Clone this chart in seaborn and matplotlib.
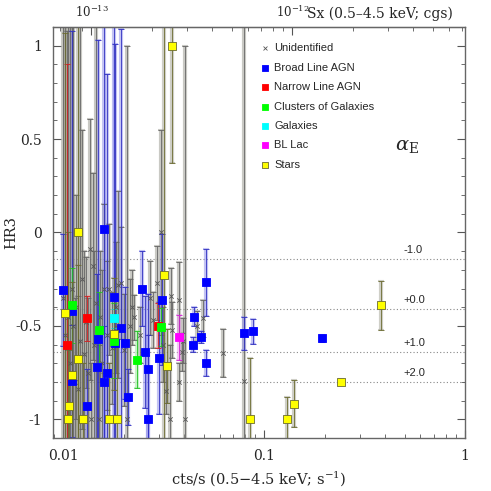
import numpy as np
import matplotlib
matplotlib.use("Agg")
import matplotlib.pyplot as plt
from matplotlib.ticker import LogLocator, MultipleLocator, NullFormatter, FixedLocator, FixedFormatter
import seaborn as sns

# conversion cts/s -> flux (cgs) for the top axis
FLUX_PER_CTS = 7.23e-12

# Unidentified sources: count rate, HR3, error
unid_x = [0.0100, 0.0102, 0.0104, 0.0106, 0.0108, 0.0110, 0.0112, 0.0114, 0.0116, 0.0119,
          0.0121, 0.0124, 0.0127, 0.0130, 0.0133, 0.0136, 0.0137, 0.0140, 0.0143, 0.0146,
          0.0150, 0.0152, 0.0156, 0.0160, 0.0165, 0.0170, 0.0175, 0.0183, 0.0188, 0.0194,
          0.0200, 0.0207, 0.0214, 0.0220, 0.0226, 0.0240, 0.0270, 0.0281, 0.0292, 0.0306,
          0.0315, 0.0325, 0.0340, 0.0343, 0.0347, 0.0375, 0.0375, 0.0392, 0.0396, 0.0405,
          0.0464, 0.0497, 0.0627, 0.0790]
unid_y = [-0.35, -0.55, -0.62, -0.45, -0.70, -0.30, -0.50, -0.80, -0.40, -0.84,
          -0.58, -0.25, -0.65, -0.48, -0.75, -0.09, -1.00, -0.18, -0.60, -0.38,
          -1.00, -0.45, -0.70, -0.30, -0.55, -0.305, -0.62, -0.40, -0.28, -0.27,
          -0.63, -1.00, -0.50, -0.40, -0.455, -0.55, -0.35, -0.47, -0.27, 0.00,
          -0.60, -0.85, -1.00, -0.34, -0.52, -0.36, -0.80, -0.64, -0.58, -1.00,
          -0.50, -0.46, -0.645, -0.795]
unid_err = [1.6, 1.8, 1.7, 1.6, 1.9, 1.5, 1.6, 0.45, 0.6, 0.5,
            1.7, 0.8, 0.55, 0.35, 0.4, 0.7, 0.3, 0.5, 0.5, 1.7,
            0.4, 0.35, 0.5, 0.45, 0.4, 0.35, 0.3, 0.35, 0.5, 0.3,
            0.3, 2.0, 0.25, 0.2, 0.12, 0.15, 0.2, 0.15, 0.2, 0.55,
            0.2, 0.12, 0.4, 0.15, 0.15, 0.2, 0.1, 0.1, 0.12, 2.0,
            0.08, 0.1, 0.13, 2.2]

# Broad line AGN
blagn_x = [0.0159, 0.0100, 0.0111, 0.0248, 0.0178, 0.0310, 0.0513, 0.0449, 0.0486, 0.0442,
           0.0513, 0.0194, 0.0149, 0.0203, 0.0181, 0.0254, 0.0301, 0.0148, 0.0165, 0.0263,
           0.0111, 0.0160, 0.0209, 0.0131, 0.0265, 0.0792, 0.0880, 0.1944]
blagn_y = [0.02, -0.31, -0.42, -0.30, -0.345, -0.36, -0.267, -0.45, -0.56, -0.60,
           -0.70, -0.51, -0.57, -0.59, -0.59, -0.64, -0.67, -0.72, -0.75, -0.73,
           -0.795, -0.80, -0.88, -0.93, -1.00, -0.54, -0.53, -0.567]
blagn_err = [1.2, 0.3, 1.5, 0.2, 1.5, 0.35, 0.18, 0.05, 0.03, 0.04,
             0.07, 1.6, 1.6, 0.3, 1.6, 0.3, 0.3, 0.5, 1.6, 0.4,
             0.3, 0.3, 0.15, 0.2, 0.45, 0.09, 0.065, 0.02]

# Narrow line AGN
nlagn_x = [0.0131, 0.0105, 0.0298]
nlagn_y = [-0.46, -0.60, -0.50]
nlagn_err = [0.12, 1.5, 0.12]

# Clusters of galaxies
clus_x = [0.0111, 0.0150, 0.0178, 0.0234, 0.0306]
clus_y = [-0.39, -0.52, -0.58, -0.68, -0.505]
clus_err = [0.2, 0.2, 0.2, 0.15, 0.1]

# Galaxies
gal_x = [0.0178]
gal_y = [-0.46]
gal_err = [0.05]

# BL Lac
bllac_x = [0.0375]
bllac_y = [-0.56]
bllac_err = [0.12]

# Stars
star_x = [0.0118, 0.0102, 0.0319, 0.0178, 0.0118, 0.0110, 0.0328, 0.0107, 0.0106, 0.0126,
          0.0169, 0.0185, 0.0347, 0.384, 0.2406, 0.0855, 0.130, 0.1403]
star_y = [0.00, -0.43, -0.23, -0.545, -0.675, -0.765, -0.714, -0.93, -1.00, -1.00,
          -1.00, -1.00, 1.00, -0.39, -0.80, -1.00, -1.00, -0.916]
star_err = [1.5, 1.5, 1.5, 0.3, 0.5, 0.5, 0.2, 0.3, 1.0, 0.3,
            0.3, 0.5, 0.63, 0.13, 0.015, 0.33, 0.12, 0.125]

# spectral index reference lines
alpha_labels = ['-1.0', '+0.0', '+1.0', '+2.0']
alpha_hr = [-0.142, -0.41, -0.64, -0.80]


def draw_errors(ax, x, y, err, color, band):
    # wide pale band behind a thin line, like the original plotting package
    ax.errorbar(x, y, yerr=err, fmt='none', ecolor=band, elinewidth=3,
                capsize=2.5, capthick=1.5, alpha=0.5, zorder=1)
    ax.errorbar(x, y, yerr=err, fmt='none', ecolor=color, elinewidth=0.6,
                capsize=2, capthick=0.6, zorder=2)


sns.set_style("ticks")
plt.rcParams['font.family'] = ['DejaVu Serif']
plt.rcParams['mathtext.fontset'] = 'dejavuserif'

fig = plt.figure(figsize=(4.91, 4.91), dpi=100)
ax = fig.add_axes([0.108, 0.108, 0.839, 0.837])

classes = [
    ('Broad Line AGN', blagn_x, blagn_y, blagn_err, '#0000ff', '#0000ff', '#3030c0', '#8888e8'),
    ('Narrow Line AGN', nlagn_x, nlagn_y, nlagn_err, '#ff0000', '#ff0000', '#d02020', '#e89090'),
    ('Clusters of Galaxies', clus_x, clus_y, clus_err, '#00ff00', '#00ff00', '#20c020', '#90e890'),
    ('Galaxies', gal_x, gal_y, gal_err, '#00ffff', '#00ffff', '#20c0c0', '#90e8e8'),
    ('BL Lac', bllac_x, bllac_y, bllac_err, '#ff00ff', '#ff00ff', '#d020d0', '#e890e8'),
    ('Stars', star_x, star_y, star_err, '#ffff00', '#6b6b30', '#6b6b30', '#a0a090'),
]

draw_errors(ax, unid_x, unid_y, unid_err, '#666666', '#94948a')
for name, xs, ys, es, fc, ec, lc, bc in classes:
    draw_errors(ax, xs, ys, es, lc, bc)

sns.scatterplot(x=unid_x, y=unid_y, ax=ax, marker='x', color='#555555', s=10,
                linewidth=0.6, label='Unidentified', zorder=3)
for name, xs, ys, es, fc, ec, lc, bc in classes:
    sns.scatterplot(x=xs, y=ys, ax=ax, marker='s', color=fc, edgecolor=ec, s=28,
                    linewidth=0.6, label=name, zorder=4)

for lab, hr in zip(alpha_labels, alpha_hr):
    ax.axhline(hr, color='#888888', linestyle=(0, (1, 2)), linewidth=0.8, zorder=0)
    ax.text(0.85, hr + 0.02, lab, transform=ax.get_yaxis_transform(),
            fontsize=8, family='Liberation Sans', va='bottom', ha='left')
ax.text(0.83, 0.70, r'$\alpha_{\rm E}$', transform=ax.transAxes, fontsize=14)

ax.set_xscale('log')
ax.set_xlim(0.0089, 1.0)
ax.set_ylim(-1.1, 1.1)
ax.xaxis.set_major_locator(FixedLocator([0.01, 0.1, 1]))
ax.xaxis.set_major_formatter(FixedFormatter(['0.01', '0.1', '1']))
ax.xaxis.set_minor_locator(LogLocator(base=10, subs=np.arange(2, 10)))
ax.xaxis.set_minor_formatter(NullFormatter())
ax.yaxis.set_minor_locator(MultipleLocator(0.1))
ax.set_yticks([-1, -0.5, 0, 0.5, 1])
ax.set_yticklabels(['-1', '-0.5', '0', '0.5', '1'])

ax.tick_params(which='both', direction='in', right=True, top=False, color='#555555',
               labelsize=10)
ax.tick_params(which='major', length=6, width=0.8, pad=8)
ax.tick_params(which='minor', length=3, width=0.6)
for sp in ax.spines.values():
    sp.set_color('#666666')
    sp.set_linewidth(1.0)

top = ax.secondary_xaxis('top', functions=(lambda c: c * FLUX_PER_CTS,
                                           lambda f: f / FLUX_PER_CTS))
top.xaxis.set_major_locator(FixedLocator([1e-13, 1e-12]))
top.xaxis.set_major_formatter(FixedFormatter([r'$10^{-13}$', r'$10^{-12}$']))
top.xaxis.set_minor_locator(LogLocator(base=10, subs=np.arange(2, 10)))
top.xaxis.set_minor_formatter(NullFormatter())
top.tick_params(which='both', direction='in', color='#555555', labelsize=8.5)
top.tick_params(which='major', length=6, pad=5)
top.tick_params(which='minor', length=3)
fig.text(0.626, 0.963, 'Sx (0.5\u20134.5 keV; cgs)', fontsize=10, va='baseline')

ax.set_xlabel(r'cts/s (0.5$-$4.5 keV; s$^{-1}$)', fontsize=10.5)
ax.set_ylabel('HR3', fontsize=10.5)
ax.yaxis.set_label_coords(-0.085, 0.5)

leg = ax.legend(loc='upper left', bbox_to_anchor=(0.475, 0.985), frameon=False,
                prop={'family': 'Liberation Sans', 'size': 8}, handletextpad=0.2,
                labelspacing=0.85, handlelength=1.2, markerscale=0.9)

fig.savefig('out.png', dpi=100)
